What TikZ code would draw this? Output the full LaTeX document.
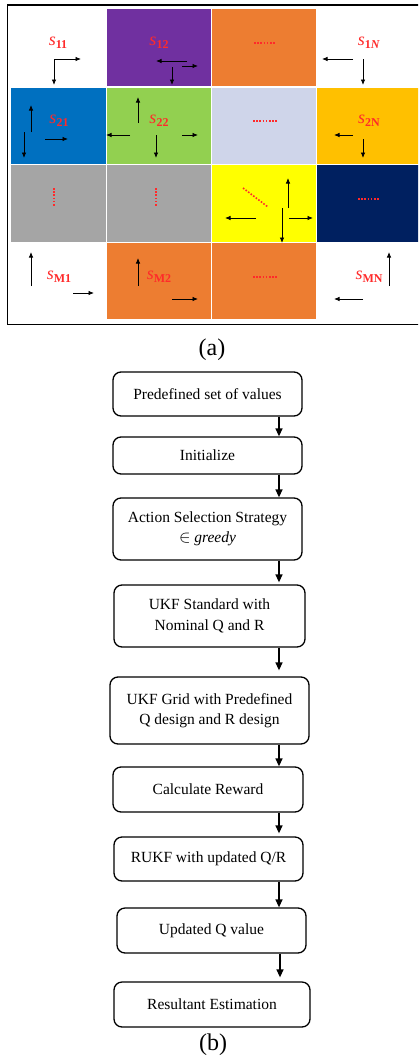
\documentclass[tikz,border=0pt]{standalone}
\usepackage{fontspec}
\setmainfont{Liberation Serif}
\usetikzlibrary{arrows.meta,calc}
\definecolor{cpurple}{HTML}{7030A0}
\definecolor{corange}{HTML}{ED7D31}
\definecolor{cblue}{HTML}{0070C0}
\definecolor{cgreen}{HTML}{92D050}
\definecolor{clav}{HTML}{CFD5EA}
\definecolor{cgold}{HTML}{FFC000}
\definecolor{cgray}{HTML}{A5A5A5}
\definecolor{cyellow}{HTML}{FFFF00}
\definecolor{cnavy}{HTML}{002060}
\definecolor{clabel}{HTML}{FF2A2A}
\newcommand\slab[1]{\textit{s}\raisebox{-0.35ex}{\fontsize{12}{12}\selectfont\bfseries #1}}
\begin{document}
\begin{tikzpicture}[x=1pt,y=-1pt,
  garrow/.style={-{Latex[length=5.5pt,width=4.5pt]}, line width=0.8pt},
  lbl/.style={text=clabel, font=\fontsize{18}{18}\selectfont, inner sep=0pt},
  box/.style={draw, line width=1.3pt, rounded corners=8pt, inner sep=0pt, align=center, font=\fontsize{15.5}{20.5}\selectfont},
  flow/.style={-{Triangle[length=8pt,width=7pt]}, line width=1.3pt},
  reddots/.style={clabel, line width=1.6pt, dash pattern=on 1.6pt off 1.6pt},
  capt/.style={font=\fontsize{24}{24}\selectfont, inner sep=0pt}
]
\useasboundingbox (0,0) rectangle (418,1060);
\begin{scope}
\clip (0,0) rectangle (418,1060);
% row 1
\fill[cpurple] (107,9) rectangle (211,86);
\fill[corange] (212,9) rectangle (316,86);
% row 2
\fill[cblue]   (11,88) rectangle (106,164);
\fill[cgreen]  (107,88) rectangle (211,164);
\fill[clav]    (212,88) rectangle (316,164);
\fill[cgold]   (317,88) rectangle (430,164);
% row 3
\fill[cgray]   (11,165) rectangle (106,242);
\fill[cgray]   (107,165) rectangle (211,242);
\fill[cyellow] (212,165) rectangle (316,242);
\fill[cnavy]   (317,165) rectangle (430,242);
% row 4
\fill[corange] (107,243) rectangle (211,319);
\fill[corange] (212,243) rectangle (316,319);
\draw[line width=1.8pt] (7.5,5.2) rectangle (440,324.5);
\end{scope}
% labels
\node[lbl] (s11) at (58,43) {\slab{11}};
\node[lbl] (s12) at (159,43) {\slab{12}};
\node[lbl] (s1N) at (369,43) {\textit{s}\raisebox{-0.35ex}{\fontsize{12}{12}\selectfont\bfseries 1\textit{N}}};
\node[lbl] (s21) at (59,121) {\slab{21}};
\node[lbl] (s22) at (159,121) {\slab{22}};
\node[lbl] (s2N) at (369,121) {\slab{2N}};
\node[lbl] (sM1) at (59,277) {\slab{M1}};
\node[lbl] (sM2) at (159,277) {\slab{M2}};
\node[lbl] (sMN) at (369,277) {\slab{MN}};
% red dots and dashes
\draw[reddots] (254,43) -- (275,43);
\draw[reddots] (253,121) -- (277,121);
\draw[reddots] (358,199) -- (379,199);
\draw[reddots] (253,277) -- (277,277);
\draw[reddots] (54,188) -- (54,207);
\draw[reddots] (156,188) -- (156,207);
\draw[reddots] (243,188) -- (268,207);
% grid arrows
\draw[garrow] (54,59) -- (81,59);
\draw[garrow] (54,59) -- (54,85);
\draw[garrow] (187,61) -- (156,61);
\draw[garrow] (182,66) -- (198,66);
\draw[garrow] (172,67) -- (172,85);
\draw[garrow] (353,59) -- (322,59);
\draw[garrow] (363,59) -- (363,85);
\draw[garrow] (31,132) -- (31,105);
\draw[garrow] (24,132) -- (24,158);
\draw[garrow] (45,139) -- (68,139);
\draw[garrow] (138,123) -- (138,97);
\draw[garrow] (130,135) -- (106,135);
\draw[garrow] (156,135) -- (156,158);
\draw[garrow] (182,135) -- (198,135);
\draw[garrow] (353,135) -- (334,135);
\draw[garrow] (363,139) -- (363,158);
\draw[garrow] (288,208) -- (288,178);
\draw[garrow] (256,218) -- (225,218);
\draw[garrow] (289,218) -- (313,218);
\draw[garrow] (282,208) -- (282,243);
\draw[garrow] (31,286) -- (31,252);
\draw[garrow] (73,293) -- (94,293);
\draw[garrow] (138,286) -- (138,258);
\draw[garrow] (172,299) -- (198,299);
\draw[garrow] (389,286) -- (389,252);
\draw[garrow] (363,299) -- (334,299);
% captions
\node[capt] (capa) at (212,350) {(a)};
\node[capt] (capb) at (213,1045) {(b)};
% flowchart
\node[box, minimum width=189pt, minimum height=44pt] (b1) at (207.5,394) {Predefined set of values};
\node[box, minimum width=189pt, minimum height=37pt] (b2) at (207.5,455.5) {Initialize};
\node[box, minimum width=189pt, minimum height=62pt] (b3) at (207.5,529) {Action Selection Strategy\\{\fontsize{17}{17}\selectfont$\in$} \textit{greedy}};
\node[box, minimum width=191pt, minimum height=62pt] (b4) at (209.5,616) {UKF Standard with\\Nominal Q and R};
\node[box, minimum width=199pt, minimum height=67pt] (b5) at (209.5,710.5) {UKF Grid with Predefined\\Q design and R design};
\node[box, minimum width=190pt, minimum height=45pt] (b6) at (208,789.5) {Calculate Reward};
\node[box, minimum width=189pt, minimum height=44pt] (b7) at (208.5,859) {RUKF with updated Q/R};
\node[box, minimum width=189pt, minimum height=45pt] (b8) at (211.5,930.5) {Updated Q value};
\node[box, minimum width=196pt, minimum height=45pt] (b9) at (212,1004.5) {Resultant Estimation};
\coordinate (ax) at (279,0);
\coordinate (ax2) at (280,0);
\draw[flow] (b1.south -| ax) -- (b2.north -| ax);
\draw[flow] (b2.south -| ax) -- (b3.north -| ax);
\draw[flow, shorten >=2pt] (b3.south -| ax) -- (b4.north -| ax);
\draw[flow, shorten >=6pt] (b4.south -| ax) -- (b5.north -| ax);
\draw[flow] (b5.south -| ax) -- (b6.north -| ax);
\draw[flow, shorten >=3pt] (b6.south -| ax) -- (b7.north -| ax);
\draw[flow] (b7.south -| ax) -- (b8.north -| ax);
\draw[flow, shorten >=4pt] (b8.south -| ax2) -- (b9.north -| ax2);
\end{tikzpicture}
\end{document}
